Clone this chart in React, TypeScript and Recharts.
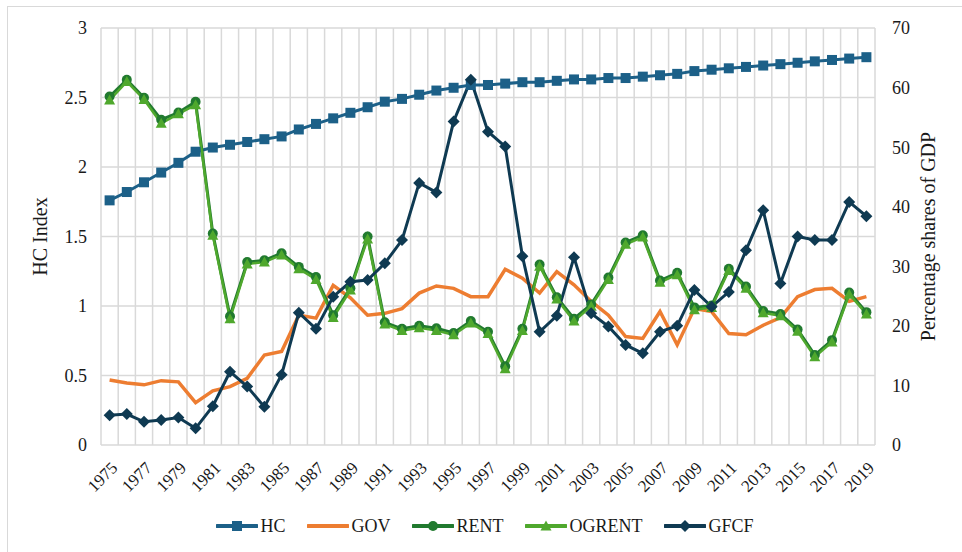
import { LineChart, Line, XAxis, YAxis, CartesianGrid } from "recharts";

const years = [
  "1975", "1976", "1977", "1978", "1979", "1980", "1981", "1982", "1983", "1984",
  "1985", "1986", "1987", "1988", "1989", "1990", "1991", "1992", "1993", "1994",
  "1995", "1996", "1997", "1998", "1999", "2000", "2001", "2002", "2003", "2004",
  "2005", "2006", "2007", "2008", "2009", "2010", "2011", "2012", "2013", "2014",
  "2015", "2016", "2017", "2018", "2019",
];

// HC index (left axis)
const hc = [
  1.76, 1.82, 1.89, 1.96, 2.03, 2.11, 2.14, 2.16, 2.18, 2.2,
  2.22, 2.27, 2.31, 2.35, 2.39, 2.43, 2.47, 2.49, 2.52, 2.55,
  2.57, 2.59, 2.59, 2.6, 2.61, 2.61, 2.62, 2.63, 2.63, 2.64,
  2.64, 2.65, 2.66, 2.67, 2.69, 2.7, 2.71, 2.72, 2.73, 2.74,
  2.75, 2.76, 2.77, 2.78, 2.79,
];

// shares of GDP (right axis)
const gov = [
  10.9, 10.4, 10.1, 10.8, 10.6, 7.1, 9.1, 9.8, 11.2, 15.1,
  15.7, 21.8, 21.3, 26.8, 24.7, 21.8, 22.1, 22.9, 25.5, 26.7,
  26.3, 24.9, 24.9, 29.5, 28.0, 25.5, 29.1, 26.9, 24.1, 21.8,
  18.2, 17.9, 22.4, 16.8, 22.9, 22.4, 18.7, 18.5, 20.1, 21.4,
  24.9, 26.1, 26.3, 24.1, 24.9,
];

const rent = [
  58.5, 61.3, 58.3, 54.6, 55.8, 57.6, 35.5, 21.6, 30.7, 31.0,
  32.2, 29.9, 28.2, 21.8, 26.3, 35.0, 20.6, 19.5, 20.0, 19.6,
  18.8, 20.8, 19.0, 13.2, 19.5, 30.3, 24.8, 21.2, 23.6, 28.1,
  34.0, 35.2, 27.6, 28.9, 23.1, 23.4, 29.6, 26.6, 22.5, 22.0,
  19.4, 15.1, 17.6, 25.6, 22.3,
];

const ogrent = [
  57.9, 61.0, 58.0, 54.0, 55.6, 57.1, 35.2, 21.2, 30.4, 30.7,
  31.9, 29.6, 27.8, 21.4, 26.0, 34.6, 20.3, 19.2, 19.7, 19.2,
  18.5, 20.5, 18.7, 12.8, 19.2, 30.0, 24.5, 20.8, 23.3, 27.8,
  33.7, 34.9, 27.3, 28.6, 22.7, 23.1, 29.3, 26.3, 22.2, 21.7,
  19.1, 14.8, 17.3, 25.3, 22.0,
];

const gfcf = [
  5.0, 5.2, 3.9, 4.2, 4.6, 2.8, 6.5, 12.3, 9.8, 6.4,
  11.8, 22.2, 19.5, 24.9, 27.4, 27.7, 30.5, 34.4, 44.0, 42.4,
  54.3, 61.3, 52.6, 50.1, 31.7, 19.0, 21.7, 31.5, 22.1, 19.9,
  16.8, 15.4, 19.0, 20.0, 26.0, 23.2, 25.7, 32.7, 39.4, 27.1,
  35.0, 34.4, 34.4, 40.8, 38.4,
];

const leftTicks = [0, 0.5, 1, 1.5, 2, 2.5, 3];
const rightTicks = [0, 10, 20, 30, 40, 50, 60, 70];

const data = years.map((year, i) => ({
  year,
  HC: hc[i],
  GOV: gov[i],
  RENT: rent[i],
  OGRENT: ogrent[i],
  GFCF: gfcf[i],
}));

const FONT = "Liberation Serif, DejaVu Serif, serif";
const TEXT = "#1a1a1a";

const C_HC = "#1c6088";
const C_GOV = "#ed7d31";
const C_RENT = "#217a2f";
const C_OG = "#4fa82d";
const C_GFCF = "#0f3a52";

// half a category slot, so points sit in the middle of each grid cell
const HALF_SLOT = 774 / years.length / 2;

type Shape = "square" | "none" | "circle" | "triangle" | "diamond";

function Marker({ shape, cx, cy, color, size }: { shape: Shape; cx: number; cy: number; color: string; size: number }) {
  const h = size / 2;
  if (shape === "square")
    return <rect x={cx - h} y={cy - h} width={size} height={size} fill={color} />;
  if (shape === "circle") return <circle cx={cx} cy={cy} r={h} fill={color} />;
  if (shape === "triangle")
    return (
      <polygon
        points={`${cx},${cy - h - 1} ${cx + h + 1},${cy + h} ${cx - h - 1},${cy + h}`}
        fill={color}
      />
    );
  if (shape === "diamond")
    return (
      <polygon
        points={`${cx},${cy - h - 1} ${cx + h + 1},${cy} ${cx},${cy + h + 1} ${cx - h - 1},${cy}`}
        fill={color}
      />
    );
  return null;
}

const series: Array<{ key: string; color: string; width: number; shape: Shape; size: number; axis: string }> = [
  { key: "HC", color: C_HC, width: 3, shape: "square", size: 10, axis: "left" },
  { key: "GOV", color: C_GOV, width: 3.5, shape: "none", size: 0, axis: "right" },
  { key: "RENT", color: C_RENT, width: 3, shape: "circle", size: 10, axis: "right" },
  { key: "OGRENT", color: C_OG, width: 2.5, shape: "triangle", size: 9, axis: "right" },
  { key: "GFCF", color: C_GFCF, width: 3, shape: "diamond", size: 10, axis: "right" },
];

function XTick({ x, y, payload }: any) {
  const px = x + 5;
  const py = y + 12;
  return (
    <text
      x={px}
      y={py}
      transform={`rotate(-45 ${px} ${py})`}
      textAnchor="end"
      dominantBaseline="central"
      fontFamily={FONT}
      fontSize={17}
      fill={TEXT}
    >
      {payload.value}
    </text>
  );
}

function AxisTitle({ viewBox, value, dx }: any) {
  const cx = viewBox.x + dx;
  const cy = viewBox.y + viewBox.height / 2;
  return (
    <text
      x={cx}
      y={cy}
      transform={`rotate(-90 ${cx} ${cy})`}
      textAnchor="middle"
      dominantBaseline="central"
      fontFamily={FONT}
      fontSize={20}
      fill={TEXT}
    >
      {value}
    </text>
  );
}

function LegendRow() {
  return (
    <div
      style={{
        position: "absolute",
        top: 512,
        left: 4,
        width: 962,
        height: 28,
        display: "flex",
        justifyContent: "center",
        alignItems: "center",
        gap: 22,
        fontFamily: FONT,
        fontSize: 18,
        color: TEXT,
      }}
    >
      {series.map((s) => (
        <span key={s.key} style={{ display: "flex", alignItems: "center", gap: 2 }}>
          <svg width={42} height={14}>
            <line x1={1} y1={7} x2={41} y2={7} stroke={s.color} strokeWidth={4} strokeLinecap="round" />
            <Marker shape={s.shape} cx={21} cy={7} color={s.color} size={s.size} />
          </svg>
          {s.key}
        </span>
      ))}
    </div>
  );
}

export default function App() {
  return (
    <div
      style={{
        position: "absolute",
        left: 0,
        top: 0,
        width: 962,
        height: 552,
        overflow: "hidden",
        background: "#ffffff",
        fontFamily: FONT,
      }}
    >
      <div
        style={{
          position: "absolute",
          left: 7,
          top: 6,
          width: 1000,
          height: 600,
          border: "1px solid #d9d9d9",
        }}
      />
      <LineChart
        width={962}
        height={552}
        data={data}
        margin={{ top: 28, right: 27, left: 41, bottom: 47 }}
        style={{ position: "absolute", left: 0, top: 0 }}
      >
        <CartesianGrid
          yAxisId="left"
          stroke="#d9d9d9"
          strokeWidth={1.5}
          verticalCoordinatesGenerator={({ offset }: any) =>
            Array.from({ length: years.length + 1 }, (_, i) => offset.left + (offset.width * i) / years.length)
          }
        />
        <XAxis
          dataKey="year"
          interval={1}
          height={60}
          padding={{ left: HALF_SLOT, right: HALF_SLOT }}
          axisLine={false}
          tickLine={false}
          tick={<XTick />}
        />
        <YAxis
          yAxisId="left"
          domain={[0, 3]}
          ticks={leftTicks}
          width={60}
          axisLine={false}
          tickLine={false}
          tickMargin={8}
          tick={{ fontFamily: FONT, fontSize: 18, fill: TEXT }}
          label={{ content: (p: any) => <AxisTitle viewBox={p.viewBox} value="HC Index" dx={-1} /> }}
        />
        <YAxis
          yAxisId="right"
          orientation="right"
          domain={[0, 70]}
          ticks={rightTicks}
          width={60}
          axisLine={false}
          tickLine={false}
          tickMargin={11}
          tick={{ fontFamily: FONT, fontSize: 18, fill: TEXT, textAnchor: "start" }}
          label={{
            content: (p: any) => <AxisTitle viewBox={p.viewBox} value="Percentage shares of GDP" dx={53} />,
          }}
        />
        {series.map((s) => (
          <Line
            key={s.key}
            yAxisId={s.axis}
            dataKey={s.key}
            type="linear"
            stroke={s.color}
            strokeWidth={s.width}
            isAnimationActive={false}
            activeDot={false}
            dot={
              s.shape === "none"
                ? false
                : (p: any) => (
                    <Marker key={`${s.key}-${p.index}`} shape={s.shape} cx={p.cx} cy={p.cy} color={s.color} size={s.size} />
                  )
            }
          />
        ))}
      </LineChart>
      <LegendRow />
    </div>
  );
}
